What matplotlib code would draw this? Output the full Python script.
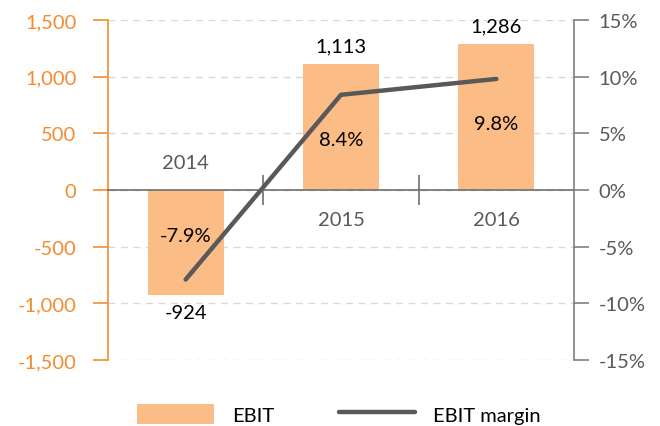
import matplotlib
matplotlib.use("Agg")
import matplotlib.pyplot as plt
from matplotlib.patches import Patch
from matplotlib.lines import Line2D
from matplotlib.ticker import FuncFormatter

years = ["2014", "2015", "2016"]
ebit = [-924, 1113, 1286]
margin = [-7.9, 8.4, 9.8]
ebit_labels = ["-924", "1,113", "1,286"]
margin_labels = ["-7.9%", "8.4%", "9.8%"]

plt.rcParams['font.family'] = ['Lato', 'DejaVu Sans']
FS = 14.5
ORANGE = "#F58B2F"
BAR = "#FBBC85"
LINE = "#595959"
GRAY_AX = "#808080"

fig = plt.figure(figsize=(6.6, 4.27), dpi=100)
ax = fig.add_axes([108/660, 1-361/427, (574-108)/660, (361-21)/427])
x = list(range(len(years)))

ax.set_xlim(-0.5, 2.5)
ax.set_ylim(-1500, 1500)
ax.set_yticks([-1500, -1000, -500, 0, 500, 1000, 1500])
ax.yaxis.set_major_formatter(FuncFormatter(lambda v, p: f"{int(v):,}"))
ax.grid(axis='y', color="#d9d9d9", linestyle=(0, (5, 4)), linewidth=1)
ax.set_axisbelow(True)

ax.bar(x, ebit, width=0.49, color=BAR, zorder=2)

for s in ['top', 'right']:
    ax.spines[s].set_visible(False)
ax.spines['left'].set_color(ORANGE)
ax.spines['left'].set_linewidth(1.2)
ax.spines['bottom'].set_position(('data', 0))
ax.spines['bottom'].set_color("#6e6e6e")
ax.spines['bottom'].set_linewidth(1.2)
ax.spines['bottom'].set_zorder(3)
ax.tick_params(axis='y', colors=ORANGE, labelcolor=ORANGE, length=10.8, width=1.2,
               labelsize=FS, pad=12)
ax.set_xticks([0.5, 1.5])
ax.set_xticklabels([])
ax.tick_params(axis='x', direction='inout', length=21, color="#6e6e6e", width=1.2)

# category labels
for xi, v, yl in zip(x, ebit, years):
    off = 20 if v < 0 else -21
    ax.annotate(yl, (xi, 0), xytext=(0, off), textcoords='offset points',
                ha='center', va='center', fontsize=FS, color="#595959")
# EBIT labels
for xi, v, lab in zip(x, ebit, ebit_labels):
    off = -13 if v < 0 else 13
    ax.annotate(lab, (xi, v), xytext=(0, off), textcoords='offset points',
                ha='center', va='center', fontsize=FS, color="black")

ax2 = ax.twinx()
ax2.set_ylim(-15, 15)
ax2.set_yticks([-15, -10, -5, 0, 5, 10, 15])
ax2.yaxis.set_major_formatter(FuncFormatter(lambda v, p: f"{int(v)}%"))
for s in ['top', 'left', 'bottom']:
    ax2.spines[s].set_visible(False)
ax2.spines['right'].set_color(GRAY_AX)
ax2.spines['right'].set_linewidth(1.2)
ax2.tick_params(axis='y', colors=GRAY_AX, labelcolor="#595959", length=10.8, width=1.2,
                labelsize=FS, pad=7)
ax2.plot(x, margin, color=LINE, linewidth=3.2, solid_capstyle='round', zorder=4)

for xi, m, lab in zip(x, margin, margin_labels):
    off = 32 if m < 0 else -32
    ax2.annotate(lab, (xi, m), xytext=(0, off), textcoords='offset points',
                 ha='center', va='center', fontsize=FS, color="black")

handles = [Patch(facecolor=BAR, edgecolor='none'),
           Line2D([0], [0], color=LINE, linewidth=3.2, solid_capstyle='round')]
fig.legend(handles, ["EBIT", "EBIT margin"], loc='center', bbox_to_anchor=(0.514, 1-415/427),
           ncol=2, frameon=False, fontsize=FS, handlelength=3.8, handleheight=1.15,
           columnspacing=3.2, handletextpad=0.9, borderpad=0)

fig.savefig("out.png", dpi=100)
